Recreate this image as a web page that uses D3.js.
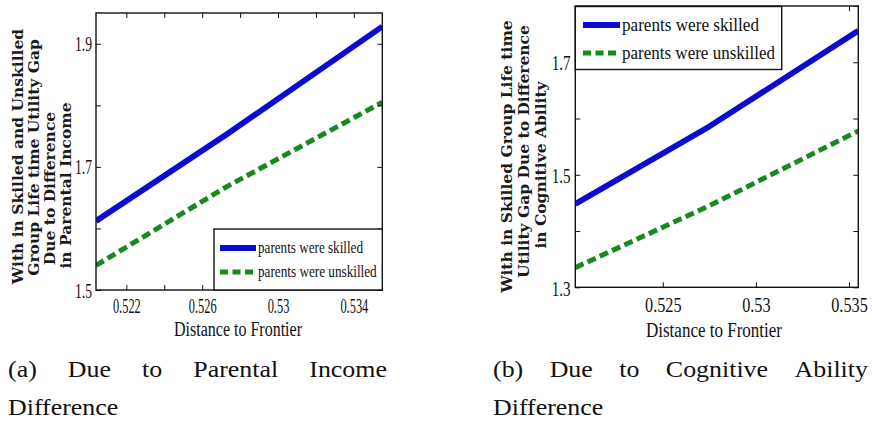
<!DOCTYPE html>
<html>
<head>
<meta charset="utf-8">
<script src="https://cdn.jsdelivr.net/npm/d3@7"></script>
<style>
  html, body { margin: 0; padding: 0; background: #fff; }
  svg { display: block; }
</style>
</head>
<body>
<svg id="fig" width="872" height="425"></svg>
<script>
// ---- Panel (a): gap due to parental income difference ----
const distA      = [0.5204, 0.5273, 0.5355];
const skilledA   = [1.612, 1.753, 1.928];
const unskilledA = [1.540, 1.668, 1.805];
const xTicksA    = [0.522, 0.524, 0.526, 0.528, 0.53, 0.532, 0.534];
const xLabelsA   = [0.522, 0.526, 0.53, 0.534];
const yTicksA    = [1.5, 1.6, 1.7, 1.8, 1.9];
const yLabelsA   = [1.5, 1.7, 1.9];
const yTitleA    = ["With in Skilled and Unskilled", "Group Life time Utility Gap",
                    "Due to Difference", "in Parental Income"];
const captionA   = [["(a)", "Due", "to", "Parental", "Income"], ["Difference"]];

// ---- Panel (b): gap due to cognitive ability difference ----
const distB      = [0.5203, 0.5275, 0.5355];
const skilledB   = [1.448, 1.586, 1.756];
const unskilledB = [1.335, 1.445, 1.578];
const xTicksB    = [0.525, 0.53, 0.535];
const xLabelsB   = [0.525, 0.53, 0.535];
const yTicksB    = [1.3, 1.4, 1.5, 1.6, 1.7, 1.8];
const yLabelsB   = [1.3, 1.5, 1.7];
const yTitleB    = ["With in Skilled Group Life time", "Utility Gap Due to Difference",
                    "in Cognitive Ability"];
const captionB   = [["(b)", "Due", "to", "Cognitive", "Ability"], ["Difference"]];

const seriesNames = ["parents were skilled", "parents were unskilled"];
const xTitle = "Distance to Frontier";

const BLUE = "#0a0ad2";
const GREEN = "#178a1e";
const SERIF = "'Liberation Serif', 'Times New Roman', serif";
const BOLD_SERIF = "'DejaVu Serif', serif";

const svg = d3.select("#fig");

const panels = [
  {
    id: "a", dist: distA, skilled: skilledA, unskilled: unskilledA,
    xTicks: xTicksA, xLabels: xLabelsA, yTicks: yTicksA, yLabels: yLabelsA,
    yTitle: yTitleA, caption: captionA,
    xDomain: [0.5204, 0.5355], yDomain: [1.5, 1.95],
    left: 96, right: 382.3, top: 13, bottom: 290,
    tickFont: 20, xTickScale: 0.62, yTickScale: 0.68, xTickBase: 23, yTickGap: 4,
    titleCx: 238, titleBase: 336, titleWidth: 128, titleFont: 20,
    yTitleX: [22.5, 38.5, 54.5, 70.5], yTitleCy: [156.5, 157.5, 188.5, 185.5], yTitleLen: 287,
    legend: { x: 214, y: 229, w: 168.3, h: 61, lx0: 220, lx1: 256, tx: 258,
              rows: [248, 272], font: 17, widths: [105, 118.7] },
    capLeft: 8, capRight: 387, capBase: [377, 415]
  },
  {
    id: "b", dist: distB, skilled: skilledB, unskilled: unskilledB,
    xTicks: xTicksB, xLabels: xLabelsB, yTicks: yTicksB, yLabels: yLabelsB,
    yTitle: yTitleB, caption: captionB,
    xDomain: [0.5203, 0.5355], yDomain: [1.3, 1.8],
    left: 575.3, right: 858.3, top: 6, bottom: 287.3,
    tickFont: 22, xTickScale: 0.74, yTickScale: 0.69, xTickBase: 24.4, yTickGap: 4.6,
    titleCx: 714, titleBase: 336.5, titleWidth: 136, titleFont: 20,
    yTitleX: [511.5, 529, 546], yTitleCy: [156.5, 151.5, 165], yTitleLen: 307,
    legend: { x: 575.3, y: 6.5, w: 206.4, h: 63, lx0: 583, lx1: 620, tx: 622,
              rows: [25, 53], font: 19, widths: [137, 153] },
    capLeft: 493, capRight: 868, capBase: [377, 415]
  }
];

panels.forEach(drawPanel);

function drawPanel(p) {
  const g = svg.append("g").attr("class", "panel-" + p.id);
  const x = d3.scaleLinear().domain(p.xDomain).range([p.left, p.right]);
  const y = d3.scaleLinear().domain(p.yDomain).range([p.bottom, p.top]);

  // clip region for the data lines
  const clipId = "clip-" + p.id;
  svg.append("defs").append("clipPath").attr("id", clipId)
    .append("rect")
    .attr("x", p.left).attr("y", p.top)
    .attr("width", p.right - p.left).attr("height", p.bottom - p.top);

  const line = d3.line().x(d => x(d[0])).y(d => y(d[1]));
  const plot = g.append("g").attr("clip-path", `url(#${clipId})`);

  plot.append("path")
    .datum(d3.zip(p.dist, p.unskilled))
    .attr("d", line)
    .attr("fill", "none")
    .attr("stroke", GREEN)
    .attr("stroke-width", 5)
    .attr("stroke-dasharray", "9,4.5");

  plot.append("path")
    .datum(d3.zip(p.dist, p.skilled))
    .attr("d", line)
    .attr("fill", "none")
    .attr("stroke", BLUE)
    .attr("stroke-width", 5.8)
    .attr("stroke-linejoin", "round");

  // axes with inward ticks on all four sides
  const fmt = labels => d => labels.includes(d) ? String(d) : "";
  const styleAxis = sel => {
    sel.select(".domain").remove();
    sel.selectAll(".tick line").attr("stroke", "#111").attr("stroke-width", 1);
  };

  const bottomAxis = g.append("g")
    .attr("transform", `translate(0,${p.bottom})`)
    .call(d3.axisBottom(x).tickValues(p.xTicks).tickSizeInner(-5).tickSizeOuter(0)
      .tickFormat(fmt(p.xLabels)))
    .call(styleAxis);
  bottomAxis.selectAll("text")
    .attr("y", p.xTickBase).attr("dy", 0)
    .attr("transform", `scale(${p.xTickScale},1)`)
    .attr("fill", "#111")
    .style("font-family", SERIF).style("font-size", p.tickFont + "px");

  g.append("g")
    .attr("transform", `translate(0,${p.top})`)
    .call(d3.axisTop(x).tickValues(p.xTicks).tickSizeInner(-5).tickSizeOuter(0).tickFormat(""))
    .call(styleAxis);

  const leftAxis = g.append("g")
    .attr("transform", `translate(${p.left},0)`)
    .call(d3.axisLeft(y).tickValues(p.yTicks).tickSizeInner(-5).tickSizeOuter(0)
      .tickFormat(fmt(p.yLabels)))
    .call(styleAxis);
  leftAxis.selectAll("text")
    .attr("x", -p.yTickGap / p.yTickScale).attr("dy", "0.35em")
    .attr("transform", `scale(${p.yTickScale},1)`)
    .attr("fill", "#111")
    .style("font-family", SERIF).style("font-size", p.tickFont + "px");

  g.append("g")
    .attr("transform", `translate(${p.right},0)`)
    .call(d3.axisRight(y).tickValues(p.yTicks).tickSizeInner(-5).tickSizeOuter(0).tickFormat(""))
    .call(styleAxis);

  // axes box
  g.append("rect")
    .attr("x", p.left).attr("y", p.top)
    .attr("width", p.right - p.left).attr("height", p.bottom - p.top)
    .attr("fill", "none").attr("stroke", "#111").attr("stroke-width", 1.4);

  // x-axis title
  g.append("text")
    .attr("x", p.titleCx).attr("y", p.titleBase)
    .attr("text-anchor", "middle")
    .attr("textLength", p.titleWidth).attr("lengthAdjust", "spacingAndGlyphs")
    .attr("fill", "#111")
    .style("font-family", SERIF).style("font-size", p.titleFont + "px")
    .text(xTitle);

  // y-axis title: bold, rotated, several lines, squeezed along its run
  const yFont = 15.5;
  const probe = g.append("text")
    .style("font-family", BOLD_SERIF).style("font-weight", "bold").style("font-size", yFont + "px")
    .text(p.yTitle[0]);
  const squeeze = Math.min(1, p.yTitleLen / probe.node().getComputedTextLength());
  probe.remove();
  p.yTitle.forEach((txt, i) => {
    g.append("text")
      .attr("transform", `translate(${p.yTitleX[i]},${p.yTitleCy[i]}) rotate(-90) scale(${squeeze},1)`)
      .attr("text-anchor", "middle")
      .attr("fill", "#1a1a1a")
      .style("font-family", BOLD_SERIF).style("font-weight", "bold")
      .style("font-size", yFont + "px")
      .text(txt);
  });

  // legend
  const L = p.legend;
  const lg = g.append("g");
  lg.append("rect")
    .attr("x", L.x).attr("y", L.y).attr("width", L.w).attr("height", L.h)
    .attr("fill", "#fff").attr("stroke", "#111").attr("stroke-width", 1.4);
  const styles = [
    { color: BLUE, dash: null, width: 5.8 },
    { color: GREEN, dash: "8,4.5", width: 5 }
  ];
  seriesNames.forEach((name, i) => {
    const ry = L.rows[i];
    lg.append("line")
      .attr("x1", L.lx0).attr("x2", L.lx1).attr("y1", ry).attr("y2", ry)
      .attr("stroke", styles[i].color).attr("stroke-width", styles[i].width)
      .attr("stroke-dasharray", styles[i].dash);
    lg.append("text")
      .attr("x", L.tx).attr("y", ry + L.font * 0.3)
      .attr("textLength", L.widths[i]).attr("lengthAdjust", "spacingAndGlyphs")
      .attr("fill", "#111")
      .style("font-family", SERIF).style("font-size", L.font + "px")
      .text(name);
  });

  // caption, justified on its first line
  const capScale = 1.08;
  p.caption.forEach((words, li) => {
    const texts = words.map(w => svg.append("text")
      .attr("fill", "#111")
      .style("font-family", SERIF).style("font-size", "24px")
      .text(w));
    const widths = texts.map(t => t.node().getComputedTextLength() * capScale);
    const total = d3.sum(widths);
    const gap = words.length > 1 ? (p.capRight - p.capLeft - total) / (words.length - 1) : 0;
    let cx = p.capLeft;
    texts.forEach((t, i) => {
      t.attr("transform", `translate(${cx},${p.capBase[li]}) scale(${capScale},1)`);
      cx += widths[i] + gap;
    });
  });
}
</script>
</body>
</html>
